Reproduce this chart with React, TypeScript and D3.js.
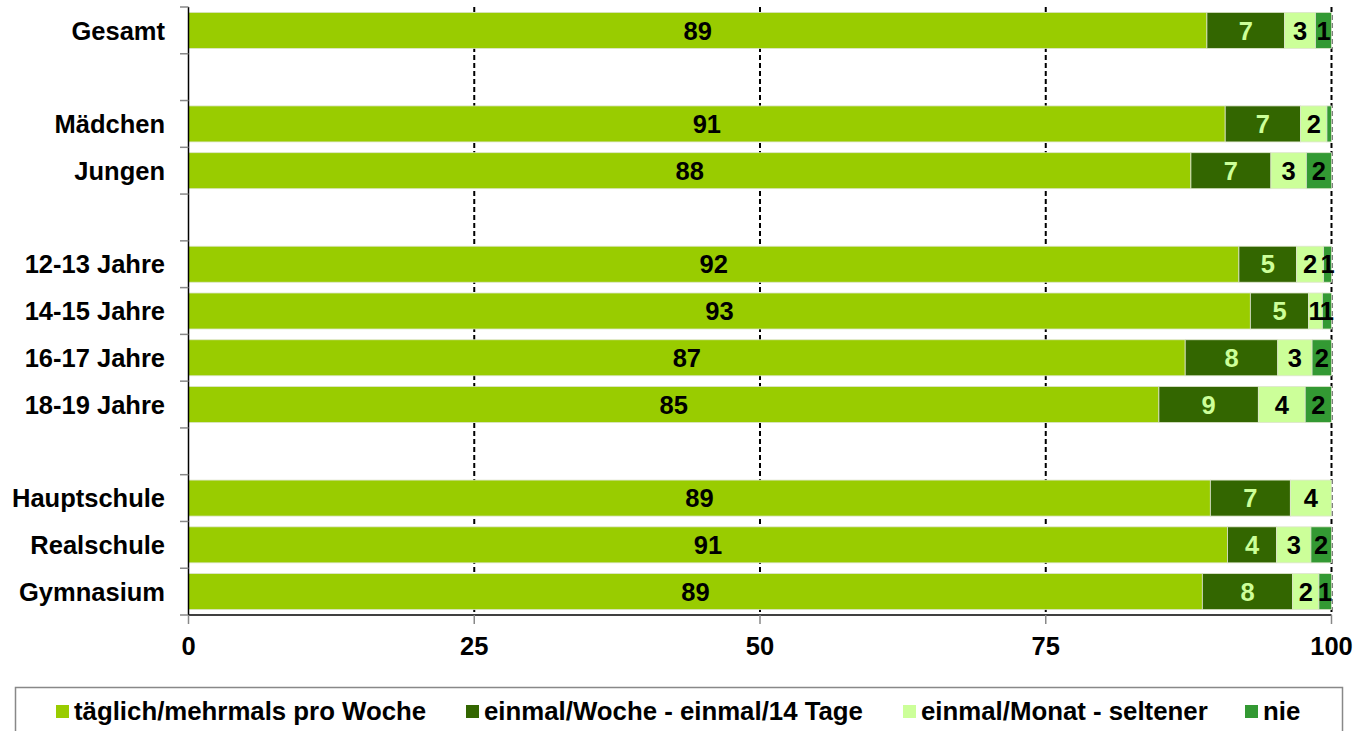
import React from "react";
import * as d3 from "d3";

const categories = ["Gesamt", "", "Mädchen", "Jungen", " ", "12-13 Jahre", "14-15 Jahre", "16-17 Jahre", "18-19 Jahre", "  ", "Hauptschule", "Realschule", "Gymnasium"];
const taeglich = [89.1, null, 90.7, 87.7, null, 91.9, 92.9, 87.2, 84.9, null, 89.4, 90.9, 88.7];
const woechentlich = [6.8, null, 6.6, 7.0, null, 5.05, 5.1, 8.1, 8.7, null, 7.0, 4.3, 7.9];
const monatlich = [2.7, null, 2.3, 3.1, null, 2.36, 1.2, 3.0, 4.1, null, 3.6, 3.0, 2.3];
const nie = [1.4, null, 0.4, 2.2, null, 0.69, 0.8, 1.7, 2.3, null, 0, 1.8, 1.1];
const seriesNames = ["täglich/mehrmals pro Woche", "einmal/Woche - einmal/14 Tage", "einmal/Monat - seltener", "nie"];
const seriesColors = ["#99CC00", "#336600", "#CCFF99", "#339933"];
const labelColors = ["#000000", "#CCFF99", "#000000", "#000000"];
const xTicks = [0, 25, 50, 75, 100];

const FONT = "'Liberation Sans', Arial, sans-serif";

export default function App() {
  const W = 1357, H = 731;
  const x = d3.scaleLinear().domain([0, 100]).range([188.5, 1331.5]);
  const y = d3.scaleBand<number>().domain(d3.range(categories.length)).range([7, 615]).paddingInner(0.23).paddingOuter(0.115);
  const step = y.step();
  const series = [taeglich, woechentlich, monatlich, nie];
  const rows = categories.map((c, i) => {
    const vals = series.map((s) => s[i]);
    if (vals[0] == null) return null;
    const stack = d3.cumsum(vals as number[]);
    return { c, i, vals: vals as number[], ends: Array.from(stack) };
  });
  const boundaries = d3.range(categories.length + 1).map((k) => 7 + k * step);
  const legendX = [56, 466, 903, 1245];

  return (
    <svg width={W} height={H} style={{ position: "absolute", left: 0, top: 0, display: "block" }} fontFamily={FONT}>
      <rect x={0} y={0} width={W} height={H} fill="#fff" />
      {/* gridlines */}
      {xTicks.filter((t) => t > 0).map((t) => (
        <line key={"g" + t} x1={x(t)} x2={x(t)} y1={7} y2={615} stroke="#000" strokeWidth={2} strokeDasharray="5,3" />
      ))}
      {/* bars */}
      {rows.map((r) =>
        r ? (
          <g key={"r" + r.i}>
            {r.vals.map((v, k) => {
              const x0 = x(k === 0 ? 0 : r.ends[k - 1]);
              const x1 = x(r.ends[k]);
              if (v <= 0) return null;
              return (
                <rect key={k} x={x0} y={y(r.i)!} width={x1 - x0} height={y.bandwidth()} fill={seriesColors[k]} stroke="#dde5cc" strokeWidth={0.8} />
              );
            })}
            {r.vals.map((v, k) => {
              const lbl = Math.round(v);
              if (lbl <= 0) return null;
              const x0 = x(k === 0 ? 0 : r.ends[k - 1]);
              const x1 = x(r.ends[k]);
              return (
                <text key={"t" + k} x={(x0 + x1) / 2} y={y(r.i)! + y.bandwidth() / 2} dy="0.36em" textAnchor="middle" fontSize={25.5} fontWeight="bold" fill={labelColors[k]}>
                  {lbl}
                </text>
              );
            })}
          </g>
        ) : null
      )}
      {/* y axis */}
      <line x1={188.5} x2={188.5} y1={7} y2={615} stroke="#000" strokeWidth={1.5} />
      {boundaries.map((b, k) => (
        <line key={"yt" + k} x1={180} x2={188.5} y1={b} y2={b} stroke="#888" strokeWidth={1.5} />
      ))}
      {categories.map((c, i) =>
        c.trim() ? (
          <text key={"c" + i} x={165} y={y(i)! + y.bandwidth() / 2} dy="0.36em" textAnchor="end" fontSize={25.5} fontWeight="bold" fill="#000">
            {c}
          </text>
        ) : null
      )}
      {/* x axis */}
      <line x1={188.5} x2={1331.5} y1={615} y2={615} stroke="#000" strokeWidth={1.5} />
      {xTicks.map((t) => (
        <g key={"xt" + t}>
          <line x1={x(t)} x2={x(t)} y1={615} y2={624} stroke="#888" strokeWidth={1.5} />
          <text x={x(t)} y={655} textAnchor="middle" fontSize={25.5} fontWeight="bold" fill="#000">{t}</text>
        </g>
      ))}
      {/* legend */}
      <rect x={15.5} y={687.5} width={1327} height={60} fill="#fff" stroke="#888" strokeWidth={1.5} />
      {seriesNames.map((n, k) => (
        <g key={"l" + k}>
          <rect x={legendX[k]} y={705} width={13} height={13} fill={seriesColors[k]} />
          <text x={legendX[k] + 18} y={720} fontSize={25.8} fontWeight="bold" fill="#000">{n}</text>
        </g>
      ))}
    </svg>
  );
}
